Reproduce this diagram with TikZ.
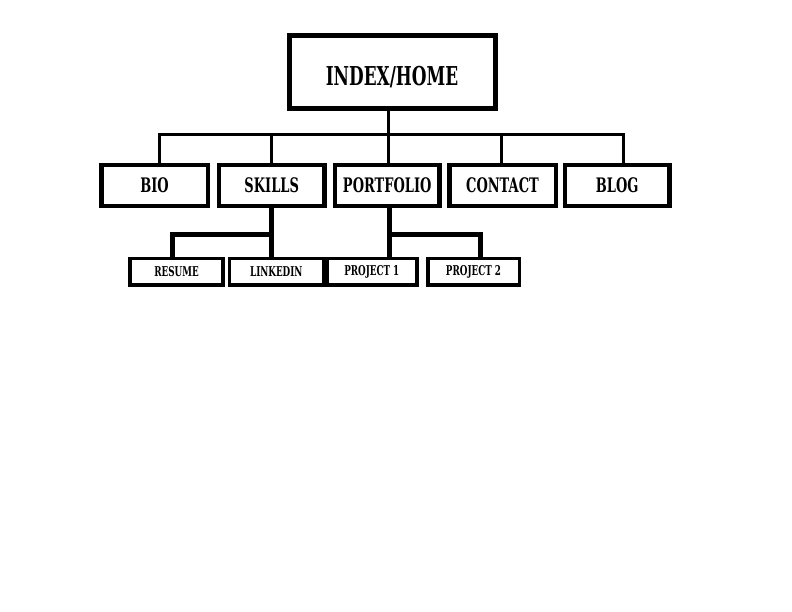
\documentclass[tikz,border=0pt]{standalone}
\usepackage{fontspec}
\newfontfamily\slab{DejaVu Serif}[FakeStretch=0.65]
\begin{document}
\begin{tikzpicture}[x=1pt,y=-1pt,
  topbox/.style={draw=black,line width=5pt,minimum width=206pt,minimum height=73pt,inner sep=0pt,
     text height=27pt,text depth=0pt,
     font=\slab\bfseries\fontsize{26}{26}\selectfont},
  midbox/.style={draw=black,line width=4.5pt,minimum height=41pt,inner sep=0pt,
     font=\slab\bfseries\fontsize{20}{20}\selectfont},
  lowbox/.style={draw=black,line width=3.5pt,minimum height=26.5pt,inner sep=0pt,
     font=\slab\bfseries\fontsize{13.5}{13.5}\selectfont},
  thinlink/.style={draw=black,line width=3pt,line join=miter,line cap=rect},
  thicklink/.style={draw=black,line width=5pt,line join=miter,line cap=rect}]
\useasboundingbox (0,0) rectangle (792,612);
\fill[white] (0,0) rectangle (792,612);

\node[topbox] (index) at (392,72) {INDEX/HOME};

\node[midbox,minimum width=106.5pt] (bio) at (154.5,185.5) {BIO};
\node[midbox,minimum width=105.5pt] (skills) at (271.7,185.5) {SKILLS};
\node[midbox,minimum width=104.5pt] (portfolio) at (387.2,185.5) {PORTFOLIO};
\node[midbox,minimum width=106.5pt] (contact) at (502.5,185.5) {CONTACT};
\node[midbox,minimum width=104.5pt] (blog) at (617.2,185.5) {BLOG};

\node[lowbox,minimum width=93pt] (resume) at (176.6,271.8) {RESUME};
\node[lowbox,minimum width=94pt] (linkedin) at (276.3,271.8) {LINKEDIN};
\node[lowbox,minimum width=90pt] (project1) at (371.8,271.8) {PROJECT 1};
\node[lowbox,minimum width=91.5pt] (project2) at (473.5,271.8) {PROJECT 2};

% first level bus
\coordinate (bus) at (388,135);
\coordinate (busl) at (159,135);
\coordinate (busr) at (623.5,135);
\draw[thinlink] ([xshift=-4pt]index.south) -- ([xshift=0.8pt]portfolio.north);
\draw[thinlink] (busl) -- (busr);
\draw[thinlink] ([xshift=4.5pt]bio.north) -- (busl);
\draw[thinlink] ([xshift=-0.7pt]skills.north) |- (bus);
\draw[thinlink] ([xshift=-1pt]contact.north) |- (bus);
\draw[thinlink] ([xshift=6.3pt]blog.north) -- (busr);

% second level
\coordinate (sj) at (271,235);
\coordinate (pj) at (389,235);
\draw[thicklink] ([xshift=-0.7pt]skills.south) -- ([xshift=-5.3pt]linkedin.north);
\draw[thicklink] ([xshift=-4.6pt]resume.north) |- (sj);
\draw[thicklink] ([xshift=1.8pt]portfolio.south) -- ([xshift=17.2pt]project1.north);
\draw[thicklink] ([xshift=6.5pt]project2.north) |- (pj);
\end{tikzpicture}
\end{document}
